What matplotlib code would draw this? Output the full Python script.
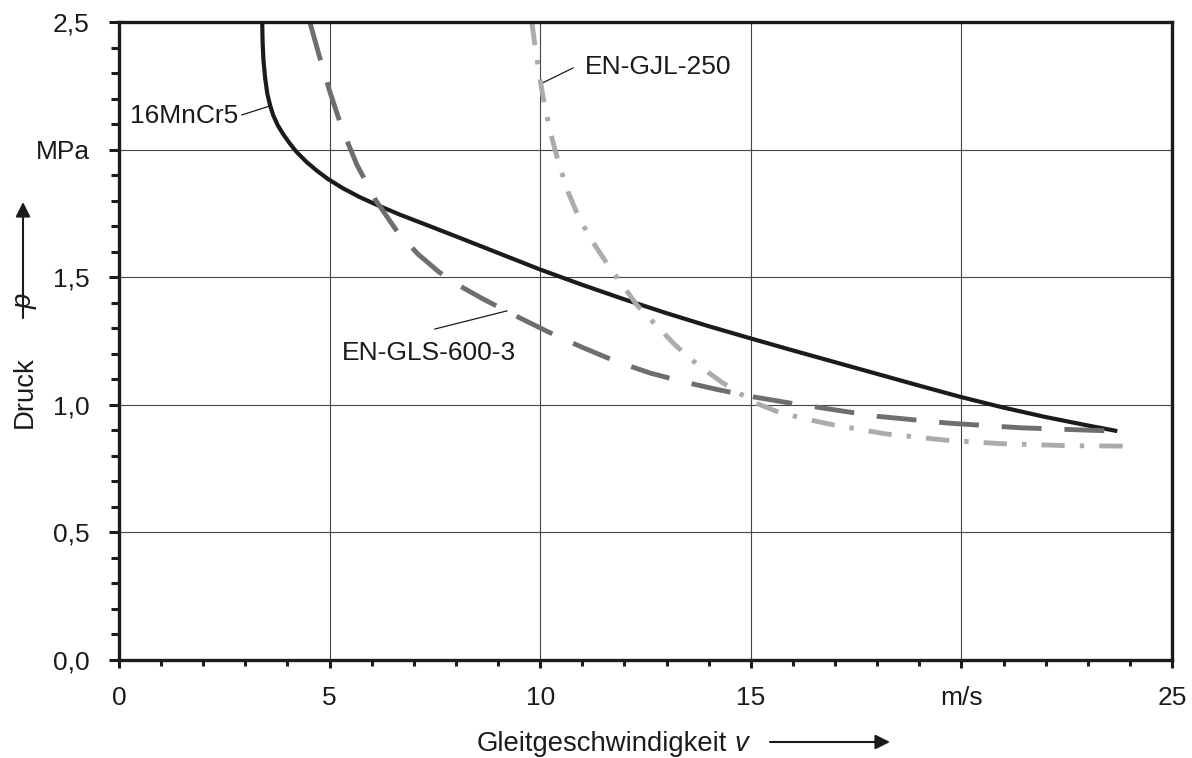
import matplotlib
matplotlib.use('Agg')
import matplotlib.pyplot as plt

# Gleitgeschwindigkeit v in m/s, Druck p in MPa
v_16mncr5 = [3.40, 3.41, 3.43, 3.47, 3.52, 3.585, 3.66, 3.77, 3.90, 4.05, 4.22, 4.45, 4.70,
             4.96, 5.30, 5.70, 6.10, 6.67, 7.3, 8.0, 9.0, 10.0, 11.0, 12.0, 13.0, 14.0, 15.0,
             16.0, 17.0, 18.0, 19.0, 20.0, 21.0, 22.0, 23.0, 23.7]
p_16mncr5 = [2.50, 2.42, 2.35, 2.28, 2.22, 2.175, 2.135, 2.095, 2.06, 2.025, 1.99, 1.952, 1.917,
             1.885, 1.85, 1.815, 1.785, 1.745, 1.705, 1.66, 1.595, 1.53, 1.47, 1.413, 1.359, 1.308, 1.26,
             1.213, 1.167, 1.121, 1.075, 1.03, 0.989, 0.952, 0.919, 0.897]

v_gls = [4.53, 4.75, 5.00, 5.30, 5.65, 6.10, 6.60, 7.10, 7.60, 8.10, 8.64, 9.40, 10.2, 11.0,
         11.8, 12.6, 13.4, 14.2, 15.1, 16.0, 16.8, 18.0, 19.7, 21.4, 23.1, 23.7]
p_gls = [2.50, 2.37, 2.23, 2.08, 1.94, 1.80, 1.68, 1.59, 1.52, 1.465, 1.415, 1.35, 1.285, 1.225,
         1.17, 1.125, 1.09, 1.06, 1.03, 1.005, 0.985, 0.955, 0.928, 0.91, 0.90, 0.897]

v_gjl = [9.80, 9.90, 10.0, 10.12, 10.27, 10.45, 10.66, 10.9, 11.2, 11.6, 12.3, 13.2, 13.75,
         14.3, 14.7, 15.15, 15.6, 16.2, 17.0, 18.2, 19.6, 20.9, 22.5, 23.9]
p_gjl = [2.50, 2.38, 2.27, 2.16, 2.05, 1.94, 1.835, 1.74, 1.65, 1.55, 1.39, 1.235, 1.155,
         1.09, 1.048, 1.005, 0.975, 0.948, 0.92, 0.886, 0.862, 0.848, 0.84, 0.838]

x_ticks = [0, 5, 10, 15, 20, 25]
x_labels = ['0', '5', '10', '15', 'm/s', '25']
y_ticks = [0.0, 0.5, 1.0, 1.5, 2.0, 2.5]
y_labels = ['0,0', '0,5', '1,0', '1,5', 'MPa', '2,5']

W, H = 1192, 758


def fx(px):
    return px / W


def fy(py):
    return 1 - py / H


def main():
    plt.rcParams['font.family'] = ['Liberation Sans', 'DejaVu Sans']
    plt.rcParams['font.size'] = 19
    dark = '#1e1a1b'

    fig = plt.figure(figsize=(W / 100, H / 100), dpi=100)
    ax = fig.add_axes([fx(119), fy(660), fx(1172 - 119), (660 - 22) / H])

    ax.plot(v_16mncr5, p_16mncr5, '-', color=dark, lw=3.0, solid_capstyle='butt',
            solid_joinstyle='round', zorder=3)
    ax.plot(v_gls, p_gls, color='#6e6e6e', lw=3.5, linestyle=(0, (8.2, 4.7)), zorder=4)
    ax.plot(v_gjl, p_gjl, color='#ababab', lw=3.5, linestyle=(0, (4.8, 3.1, 0.9, 3.1)), zorder=5)

    ax.set_xlim(0, 25)
    ax.set_ylim(0, 2.5)
    ax.set_xticks(x_ticks)
    ax.set_xticklabels(x_labels)
    ax.set_yticks(y_ticks)
    ax.set_yticklabels(y_labels)
    ax.set_xticks([i for i in range(26) if i % 5 != 0], minor=True)
    ax.set_yticks([i / 10 for i in range(26) if i % 5 != 0], minor=True)

    ax.tick_params(axis='y', which='major', direction='out', length=7.2, width=2.2,
                   color=dark, pad=14, labelcolor=dark)
    ax.tick_params(axis='y', which='minor', direction='out', length=5.8, width=2.2, color=dark)
    ax.tick_params(axis='x', which='major', direction='out', length=6, width=2.2,
                   color=dark, pad=13, labelcolor=dark)
    ax.tick_params(axis='x', which='minor', direction='out', length=4.2, width=2.2, color=dark)

    for s in ax.spines.values():
        s.set_linewidth(2.4)
        s.set_color(dark)
        s.set_zorder(6)

    ax.grid(which='major', color='#444444', lw=0.8)
    ax.set_axisbelow(True)

    # Beschriftungen der Kurven
    ax.text(1.54, 2.13, '16MnCr5', ha='center', va='center', color=dark)
    ax.plot([2.92, 3.585], [2.136, 2.171], color=dark, lw=0.9)
    ax.text(7.36, 1.203, 'EN-GLS-600-3', ha='center', va='center', color=dark)
    ax.plot([7.50, 9.21], [1.297, 1.368], color=dark, lw=0.9)
    ax.text(12.8, 2.324, 'EN-GJL-250', ha='center', va='center', color=dark)
    ax.plot([10.78, 10.04], [2.32, 2.26], color=dark, lw=0.9)

    # Achsentitel mit Pfeilen
    fig.text(fx(477), fy(751), 'Gleitgeschwindigkeit', ha='left', va='baseline',
             fontsize=19.8, color=dark)
    fig.text(fx(734), fy(751), 'v', ha='left', va='baseline', style='italic',
             fontsize=19.8, color=dark)
    ax.annotate('', xy=(fx(890), fy(742)), xytext=(fx(770), fy(742)),
                xycoords='figure fraction', textcoords='figure fraction',
                arrowprops=dict(arrowstyle='-|>', lw=1.5, color=dark, mutation_scale=22,
                                shrinkA=0, shrinkB=0))

    fig.text(fx(25), fy(428), 'Druck', ha='center', va='bottom', rotation=90,
             fontsize=19.8, color=dark)
    fig.text(fx(25), fy(294), 'p', ha='center', va='top', rotation=90, style='italic',
             fontsize=19.8, color=dark)
    ax.annotate('', xy=(fx(23), fy(202)), xytext=(fx(23), fy(318)),
                xycoords='figure fraction', textcoords='figure fraction',
                arrowprops=dict(arrowstyle='-|>', lw=1.5, color=dark, mutation_scale=22,
                                shrinkA=0, shrinkB=0))

    fig.savefig('out.png', dpi=100, facecolor='white')


if __name__ == "__main__":
    main()
